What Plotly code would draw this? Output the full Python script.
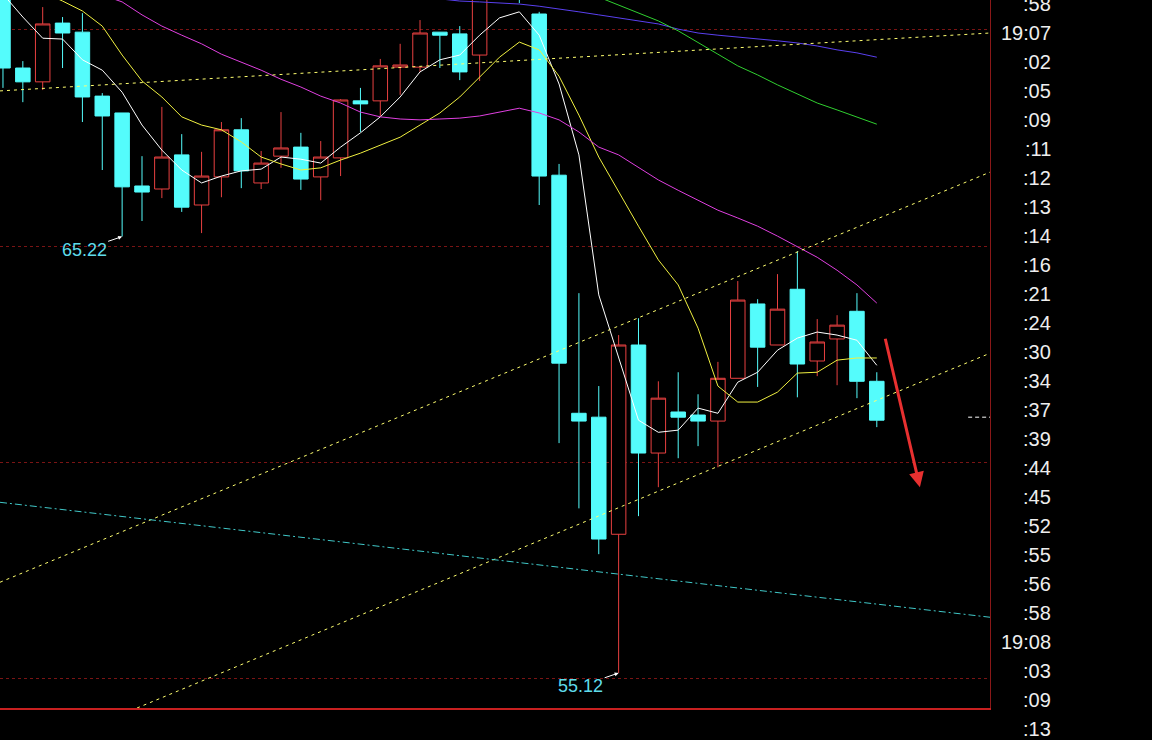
import plotly.graph_objects as go

# ---------------- data ----------------
idx = list(range(45))
opens = [71.27, 69.12, 68.80, 70.16, 69.95, 68.47, 68.08, 66.39, 66.32, 67.11,
         65.95, 66.60, 67.69, 66.46, 67.08, 67.29, 66.60, 67.04, 68.36, 68.36,
         69.14, 69.14, 69.95, 69.91, 69.42, 71.10, 71.30, 70.37, 66.64, 61.13,
         61.04, 58.33, 62.71, 60.21, 61.16, 61.09, 60.95, 61.94, 63.66, 62.71,
         64.00, 62.34, 62.85, 63.49, 61.87]
highs = [71.50, 69.28, 70.53, 70.30, 70.39, 68.54, 68.08, 67.08, 68.22, 67.59,
         67.18, 67.87, 67.96, 67.20, 68.10, 67.62, 67.43, 68.40, 68.66, 69.33,
         69.68, 70.23, 69.95, 70.09, 71.45, 71.65, 71.50, 70.42, 66.90, 63.91,
         61.76, 62.94, 63.33, 61.87, 62.08, 61.57, 62.32, 64.19, 63.77, 64.35,
         64.88, 63.31, 63.40, 63.91, 62.08]
lows = [68.66, 68.33, 68.61, 69.12, 67.87, 66.76, 65.22, 65.58, 66.11, 65.79,
        65.30, 66.13, 66.34, 66.32, 66.81, 66.30, 66.06, 66.62, 67.64, 67.99,
        68.50, 69.03, 69.12, 68.84, 68.82, 70.80, 70.62, 65.95, 60.44, 58.93,
        57.87, 55.12, 58.75, 59.42, 60.09, 60.37, 59.88, 61.94, 61.74, 62.71,
        61.50, 61.99, 61.78, 61.48, 60.81]
closes = [69.12, 68.80, 70.14, 69.93, 68.45, 68.01, 66.37, 66.25, 67.06, 65.90,
          66.62, 67.69, 66.74, 66.92, 67.27, 66.55, 67.06, 68.38, 68.29, 69.17,
          69.19, 69.93, 69.88, 69.03, 71.17, 71.40, 70.80, 66.62, 62.29, 60.95,
          58.22, 62.71, 60.21, 61.48, 61.04, 60.95, 61.94, 63.75, 62.66, 63.54,
          62.27, 62.78, 63.17, 61.87, 60.97]

N = None
ma_white = [70.83, 70.30, 69.81, 69.79, 69.31, 69.07, 68.56, 67.80, 67.22, 66.76,
            66.46, 66.62, 66.74, 66.78, 67.06, 67.01, 66.92, 67.29, 67.62, 67.99,
            68.45, 69.03, 69.31, 69.42, 69.88, 70.28, 70.42, 69.88, 68.75, 67.11,
            63.87, 62.41, 60.97, 60.69, 60.74, 61.25, 61.13, 61.85, 62.08, 62.59,
            62.87, 63.01, 62.94, 62.82, 62.24]
ma_yellow = [N, N, 70.88, 70.67, 70.44, 70.09, 69.42, 68.82, 68.45, 67.99,
             67.80, 67.69, 67.41, 67.06, 66.90, 66.76, 66.81, 66.99, 67.15, 67.34,
             67.52, 67.80, 68.08, 68.45, 68.91, 69.37, 69.72, 69.54, 68.93, 68.03,
             67.06, 66.25, 65.46, 64.68, 64.10, 63.10, 61.76, 61.39, 61.39, 61.62,
             62.06, 62.08, 62.36, 62.41, 62.41]
ma_magenta = [N, N, N, N, N, 70.81, 70.65, 70.35, 70.09, 69.88,
              69.68, 69.44, 69.26, 69.07, 68.86, 68.68, 68.47, 68.31, 68.10, 67.99,
              67.94, 67.92, 67.94, 67.96, 68.01, 68.10, 68.19, 68.08, 67.92, 67.64,
              67.29, 67.11, 66.81, 66.53, 66.29, 66.06, 65.83, 65.65, 65.46, 65.23,
              64.98, 64.74, 64.44, 64.10, 63.68]
ma_blue = [N] * 22 + [70.72, 70.67, 70.65, 70.62, 70.60, 70.55, 70.49, 70.42,
                      70.35, 70.28, 70.21, 70.14, 70.02, 69.93, 69.88, 69.84,
                      69.79, 69.75, 69.70, 69.63, 69.54, 69.47, 69.37]
ma_green = [N] * 30 + [70.76, 70.58, 70.39, 70.21, 69.98, 69.70, 69.44, 69.17,
                       68.96, 68.73, 68.52, 68.31, 68.15, 67.99, 67.82]

# drawn trend lines: (x0, price0, x1, price1)
trend_yellow = [(-0.15, 68.59, 49.70, 69.93),
                (-0.15, 57.22, 49.70, 66.71),
                (6.75, 54.31, 49.70, 62.52)]
trend_cyan = [(-0.15, 59.07, 49.70, 56.41)]

low_marks = [(6, 65.22, "65.22"), (31, 55.12, "55.12")]
arrow_tail = (44.41, 62.89)
arrow_tip = (46.17, 59.42)
price_marker = 61.04

grid_levels = [55, 60, 65, 70]
tick_labels = [":58", "19:07", ":02", ":05", ":09", ":11", ":12", ":13", ":14",
               ":16", ":21", ":24", ":30", ":34", ":37", ":39", ":44", ":45",
               ":52", ":55", ":56", ":58", "19:08", ":03", ":09", ":13"]

# ---------------- figure ----------------
RED = "#e84040"
CYAN = "#54fcfc"
PLOT_H = 708

fig = go.Figure()

fig.add_trace(go.Candlestick(
    x=idx, open=opens, high=highs, low=lows, close=closes,
    increasing=dict(line=dict(color=RED, width=1), fillcolor="#000000"),
    decreasing=dict(line=dict(color=CYAN, width=1), fillcolor=CYAN),
    whiskerwidth=0, hoverinfo="skip"))

for ys, col in [(ma_white, "#ffffff"), (ma_yellow, "#f0f040"),
                (ma_magenta, "#e040e0"), (ma_blue, "#5a40f0"),
                (ma_green, "#30d030")]:
    fig.add_trace(go.Scatter(x=idx, y=ys, mode="lines",
                             line=dict(color=col, width=1), hoverinfo="skip"))

for x0, p0, x1, p1 in trend_yellow:
    fig.add_trace(go.Scatter(x=[x0, x1], y=[p0, p1], mode="lines",
                             line=dict(color="#ffff70", width=1, dash="3px,4px"),
                             hoverinfo="skip"))
for x0, p0, x1, p1 in trend_cyan:
    fig.add_trace(go.Scatter(x=[x0, x1], y=[p0, p1], mode="lines",
                             line=dict(color="#40c8c8", width=1,
                                       dash="7px,3px,2px,3px"),
                             hoverinfo="skip"))

annotations = []
for xi, pv, txt in low_marks:
    annotations.append(dict(x=xi, y=pv, xref="x", yref="y", text=txt,
                            showarrow=True, ax=-38, ay=13, arrowhead=2,
                            arrowsize=0.8, arrowwidth=1, arrowcolor="#ffffff",
                            font=dict(family="Liberation Sans, Arial", size=18,
                                      color="#5fdceb")))

annotations.append(dict(x=arrow_tip[0], y=arrow_tip[1], xref="x", yref="y",
                        ax=arrow_tail[0], ay=arrow_tail[1], axref="x", ayref="y",
                        text="", showarrow=True, arrowhead=2, arrowsize=1,
                        arrowwidth=3, arrowcolor="#e83030"))

for k, lab in enumerate(tick_labels):
    ypx = 4 + 29 * k
    annotations.append(dict(x=1053 / 990, y=1 - ypx / PLOT_H, xref="paper",
                            yref="paper", text=lab, showarrow=False,
                            xanchor="right", yanchor="middle",
                            font=dict(family="Liberation Sans, Arial", size=20,
                                      color="#eeeeee")))

shapes = [dict(type="line", xref="x", yref="y", x0=48.6, x1=49.7,
               y0=price_marker, y1=price_marker,
               line=dict(color="#ffffff", width=1, dash="4px,3px"))]

fig.update_layout(
    width=1152, height=740,
    margin=dict(l=0, r=162, t=0, b=32),
    paper_bgcolor="#000000", plot_bgcolor="#000000",
    showlegend=False, boxgap=0.27, boxgroupgap=0,
    annotations=annotations, shapes=shapes,
    xaxis=dict(range=[-0.15, 49.7], showgrid=False, zeroline=False,
               showticklabels=False, ticks="", rangeslider=dict(visible=False),
               showline=True, linecolor="#c82020", linewidth=1.5),
    yaxis=dict(range=[54.31, 70.694], side="right", tickvals=grid_levels,
               showticklabels=False, ticks="", showgrid=True,
               gridcolor="#7a1414", griddash="dot", gridwidth=1,
               zeroline=False, showline=True, linecolor="#8a1818", linewidth=1),
)

fig.write_html("out.html", config={"displayModeBar": False},
               post_script="document.body.style.margin='0';"
                           "document.body.style.background='#000';")
